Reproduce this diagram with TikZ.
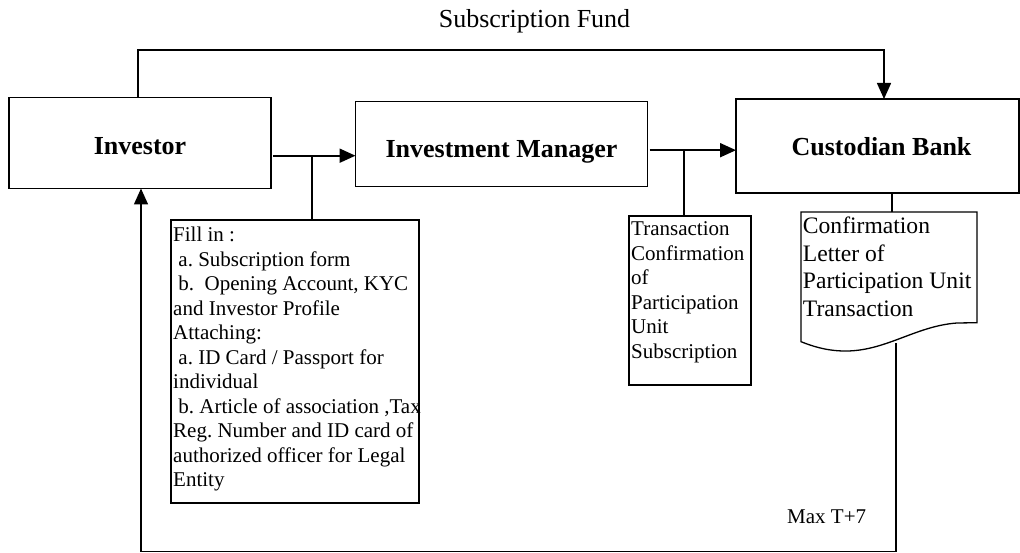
\documentclass[tikz,border=0pt]{standalone}
\usepackage{fontspec}
\setmainfont{Liberation Serif}
\usetikzlibrary{arrows.meta}
\newcommand{\normalspaces}{\spaceskip=0pt\relax\xspaceskip=0pt\relax}
\begin{document}
\frenchspacing
\begin{tikzpicture}[x=1pt,y=-1pt,
  box/.style={draw, line width=1.3pt, inner sep=0pt, outer sep=0pt, rectangle},
  ghost/.style={inner sep=0pt, outer sep=0pt, rectangle},
  title/.style={font=\fontsize{26}{30}\selectfont\bfseries, anchor=base, inner sep=0pt},
  plain/.style={font=\fontsize{21}{24.5}\selectfont\frenchspacing, inner sep=0pt},
  doctext/.style={font=\fontsize{23.6}{27.8}\selectfont\frenchspacing, inner sep=0pt},
  tip/.style={-{Triangle[length=16pt,width=14pt]}},
  conn/.style={line width=2pt, tip},
  link/.style={line width=1.5pt},
  thinlink/.style={line width=1.3pt},
  uparrow/.style={line width=1.5pt, tip},
]
\useasboundingbox (0,0) rectangle (1020,553);

% boxes
\node[box, minimum width=262pt, minimum height=91pt] (inv) at (140,143) {};
\node[box, minimum width=292pt, minimum height=85pt] (im) at (501.5,144.2) {};
\node[box, minimum width=283pt, minimum height=94pt] (cust) at (877.5,146) {};
\node[box, minimum width=248pt, minimum height=283pt] (fill) at (295,361.5) {};
\node[box, minimum width=122pt, minimum height=169pt] (tc) at (690,300.5) {};
\node[ghost, minimum width=176pt, minimum height=130pt] (doc) at (889,277) {};

% document shape
\draw[line width=1.3pt] (doc.north west) -- (doc.north east) -- (977,322.7) -- (957,323)
  .. controls (915,326) and (885,352) .. (843,351)
  .. controls (825,350.5) and (812,346) .. (801,341.7) -- cycle;

% titles
\node[title] (invt) at (140,155) {Investor};
\node[title] (imt) at (501.5,158) {Investment Manager};
\node[title] (custt) at (881.5,156) {Custodian Bank};

\node[font=\fontsize{26}{30}\selectfont, anchor=base, inner sep=0pt] (subf) at (534.5,28) {Subscription Fund};

% texts
\node[plain, anchor=base west, text width=320pt, align=flush left] (fillt) at (173,241.7)
 {\normalspaces Fill in :\\
  \hspace*{0.25em}a. Subscription form\\
  \hspace*{0.25em}b.\ \ Opening Account, KYC\\
  and Investor Profile\\
  Attaching:\\
  \hspace*{0.25em}a. ID Card / Passport for\\
  individual\\
  \hspace*{0.25em}b. Article of association ,Tax\\
  Reg. Number and ID card of\\
  authorized officer for Legal\\
  Entity};

\node[plain, anchor=base west, text width=160pt, align=flush left] (tct) at (631,236)
 {\normalspaces Transaction\\ Confirmation\\ of\\ Participation\\ Unit\\ Subscription};

\node[doctext, anchor=base west, text width=220pt, align=flush left] (doct) at (802.7,233.3)
 {\normalspaces Confirmation\\ Letter of\\ Participation Unit\\ Transaction};

\node[plain, anchor=base west] (maxt) at (787,523) {Max T+7};

% connectors
\coordinate (topc) at (500,50);
\draw[line width=1.5pt, tip]
  ([xshift=-2pt]inv.north) |- (topc) -| ([xshift=6.5pt]cust.north);

\coordinate (a1) at ([yshift=-12.7pt]inv.east);
\draw[conn] ([xshift=2pt]a1) -- (a1 -| im.west);
\coordinate (j1) at (312,155.7);
\draw[link] (j1) -- (j1 |- fill.north);

\coordinate (a2) at ([yshift=-6pt]im.east);
\draw[conn] ([xshift=2pt]a2) -- (a2 -| cust.west);
\coordinate (j2) at (684,150);
\draw[link] (j2) -- (j2 |- tc.north);

\coordinate (c1) at ([xshift=14.5pt]cust.south);
\draw[thinlink] (c1) -- (c1 |- doc.north);

\coordinate (d1) at (896,343);
\coordinate (bl) at (141,551.5);
\draw[uparrow] (d1) |- (bl) -- (bl |- inv.south);
\end{tikzpicture}
\end{document}
